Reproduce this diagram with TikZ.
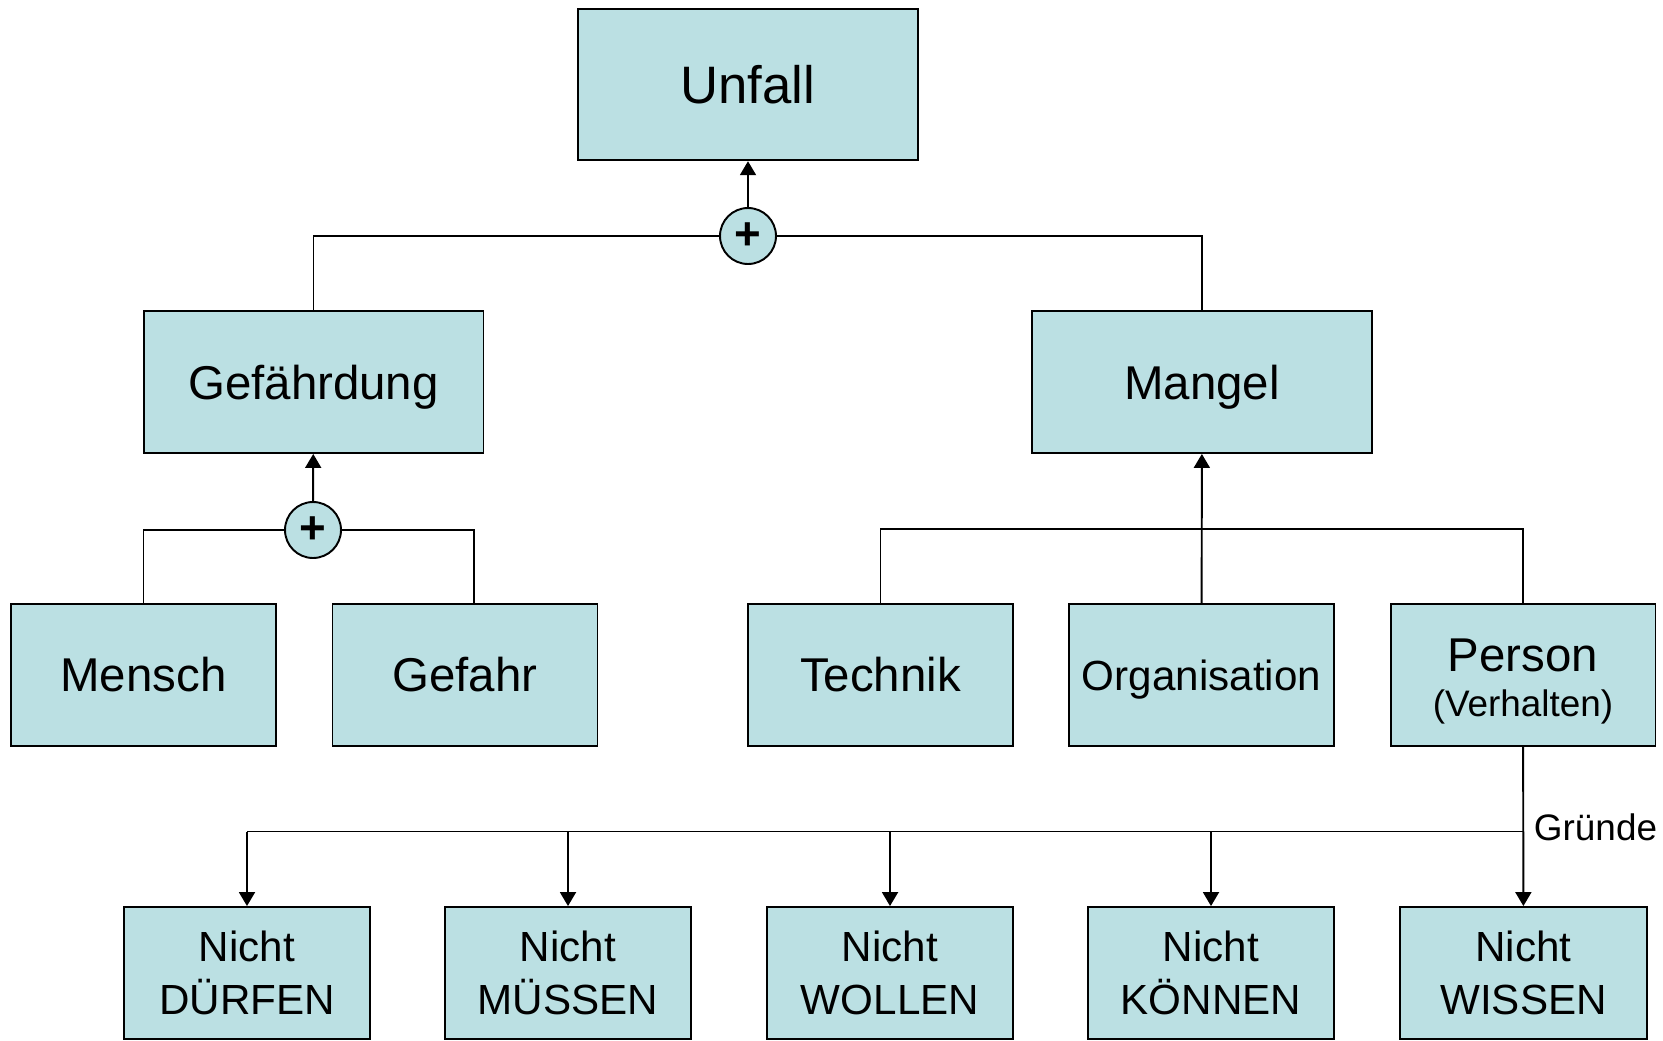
\documentclass[tikz,border=0pt]{standalone}
\usepackage{fontspec}
\setmainfont{Liberation Sans}
\usetikzlibrary{positioning}
\usetikzlibrary{arrows.meta}
\definecolor{boxfill}{RGB}{187,224,227}

\begin{document}
\begin{tikzpicture}[
  x=0.02cm,y=-0.02cm,
  line width=1.1pt,
  >={Triangle[length=0.28cm,width=0.32cm]},
  box/.style={draw,fill=boxfill,inner sep=0pt,align=center,line width=1.1pt},
  bigbox/.style={box,minimum width=6.8cm,minimum height=2.84cm,text depth=0pt,node font=\fontsize{27}{32}\selectfont},
  midbox/.style={box,minimum width=5.3cm,minimum height=2.83cm,node font=\fontsize{27}{26}\selectfont},
  smallbox/.style={box,minimum width=4.93cm,minimum height=2.64cm,node font=\fontsize{24}{30}\selectfont},
  plus/.style={draw,fill=boxfill,circle,inner sep=0pt,minimum size=1.12cm,line width=1.1pt,
    node font=\bfseries\fontsize{26}{26}\selectfont}
  ]
  \useasboundingbox (0,0) rectangle (1663,1041);
  \node (unfall)       [bigbox,minimum height=3.03cm,node font=\fontsize{30}{34}\selectfont] at (748,84.5) {Unfall};
  \node (plusoben)     [plus] at (748,236) {\raisebox{-2pt}{+}};
  \node (gefaehrdung)  [bigbox] at (313.5,382) {Gefährdung};
  \node (mangel)       [bigbox] at (1202,382) {Mangel};
  \node (plusunten)    [plus] at (313,530) {\raisebox{-2pt}{+}};
  \node (mensch)       [midbox] at (143.5,675) {Mensch};
  \node (gefahr)       [midbox] at (465,675) {Gefahr};
  \node (technik)      [midbox] at (880.5,675) {Technik};
  \node (organisation) [midbox,text depth=0pt,node font=\fontsize{24}{28}\selectfont] at (1201.5,675) {Organisation};
  \node (person)       [midbox] at (1523,675) {\rule{0pt}{26pt}Person\\{\fontsize{21}{26}\selectfont (Verhalten)}};
  \node (duerfen)      [smallbox] at (247,973) {Nicht\\DÜRFEN};
  \node (muessen)      [smallbox] at (568,973) {Nicht\\MÜSSEN};
  \node (wollen)       [smallbox] at (890,973) {Nicht\\WOLLEN};
  \node (koennen)      [smallbox] at (1211,973) {Nicht\\KÖNNEN};
  \node (wissen)       [smallbox] at (1523.5,973) {Nicht\\WISSEN};
  \coordinate (mangelbus) at (1202,529);
  \coordinate (gruendebus) at (1523,831.5);
  \node (gruende) [anchor=west,inner sep=0pt,font=\fontsize{21}{24}\selectfont] at (1533,827) {Gründe};

  \draw[->] (plusoben) -- (unfall);
  \draw (plusoben.west) -| (gefaehrdung.north);
  \draw (plusoben.east) -| (mangel.north);
  \draw[->] (plusunten) -- (gefaehrdung);
  \draw (plusunten.west) -| (mensch.north);
  \draw (plusunten.east) -| ([xshift=0.18cm]gefahr.north);
  \draw[->] (organisation) -- (mangel);
  \draw (technik.north) |- (mangelbus) -| (person.north);
  \draw[->] (person) -- (wissen);
  \draw (gruendebus) -- (duerfen.north |- gruendebus);
  \foreach \n in {duerfen,muessen,wollen,koennen}
    \draw[->] (\n.north |- gruendebus) -- (\n.north);
\end{tikzpicture}
\end{document}
